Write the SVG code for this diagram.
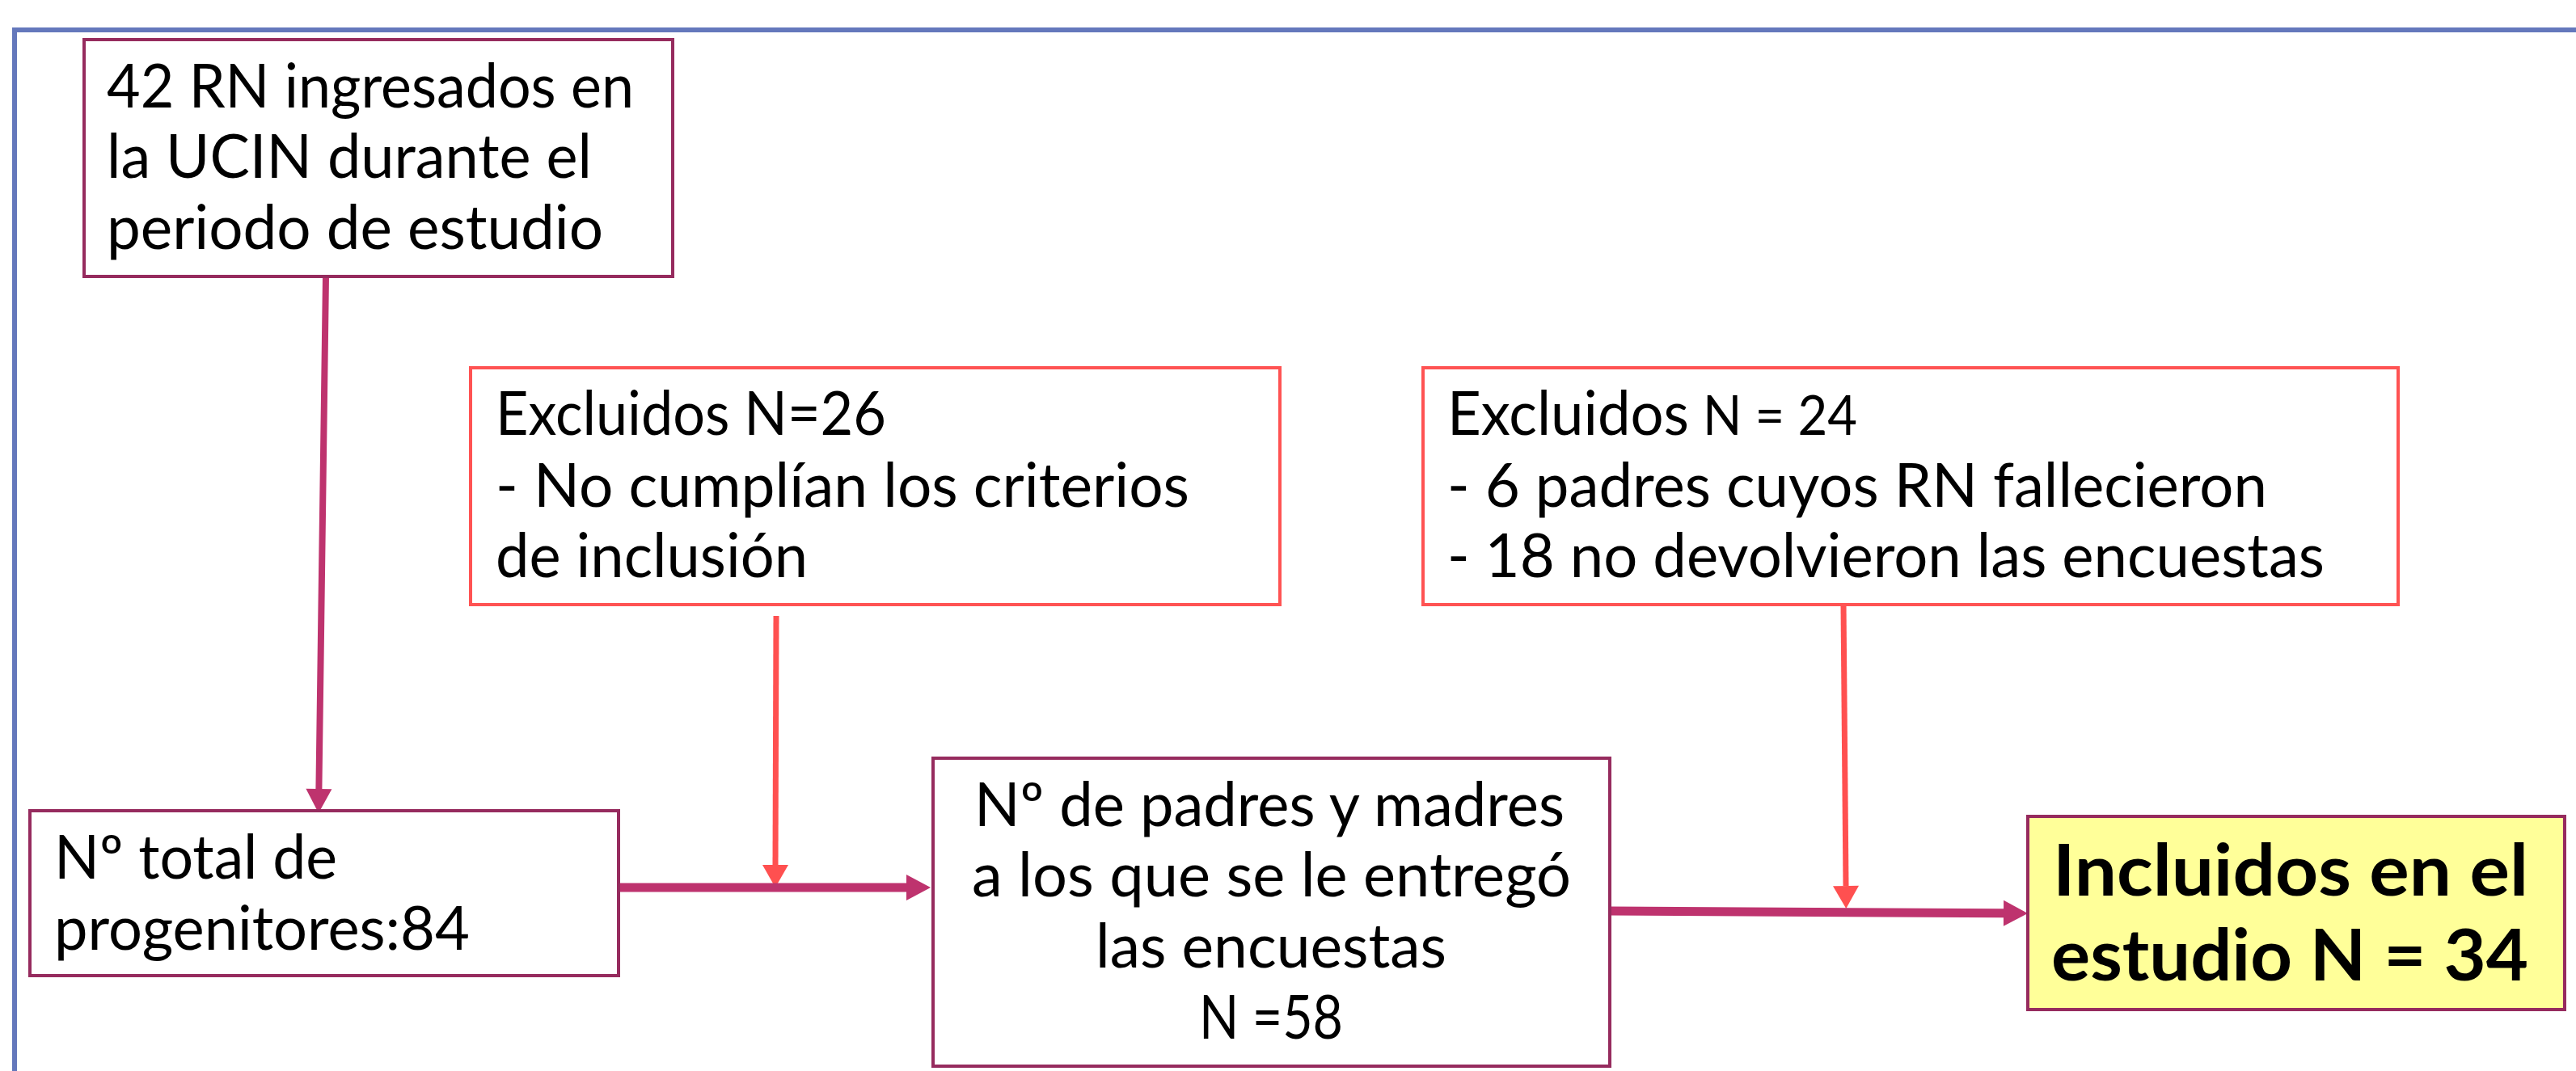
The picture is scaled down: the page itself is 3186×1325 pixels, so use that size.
<svg xmlns="http://www.w3.org/2000/svg" width="3186" height="1325" viewBox="0 0 3186 1325">
<style>
.frame{fill:none;stroke:#6478BC;stroke-width:6}
.bm{fill:#FFFFFF;stroke:#962B5E;stroke-width:4}
.br{fill:#FFFFFF;stroke:#FF5353;stroke-width:4}
.by{fill:#FFFF99;stroke:#962B5E;stroke-width:4}
.t{font-family:Lato,"Open Sans","Liberation Sans",sans-serif;font-size:75px;fill:#000000}
.tb{font-family:Lato,"Open Sans","Liberation Sans",sans-serif;font-size:88px;font-weight:bold;fill:#000000}
.cm{fill:none;stroke:#BE336E;stroke-linecap:round}
.cr{fill:none;stroke:#FF5050;stroke-width:7}
</style>
<defs>
<marker id="am" markerUnits="userSpaceOnUse" markerWidth="30" markerHeight="32" refX="0" refY="16" orient="auto" overflow="visible">
<path d="M0,0 L30,16 L0,32 Z" fill="#BE336E"/>
</marker>
<marker id="ar" markerUnits="userSpaceOnUse" markerWidth="28" markerHeight="32" refX="0" refY="16" orient="auto" overflow="visible">
<path d="M0,0 L28,16 L0,32 Z" fill="#FF5050"/>
</marker>
</defs>
<rect width="3186" height="1325" fill="#FFFFFF"/>
<path class="frame" d="M18,1330 L18,37 L3190,37"/>

<g id="connectors">
<path class="cm" stroke-width="8" d="M403,342 L394.4,976" marker-end="url(#am)"/>
<path class="cr" d="M960,762 L959,1070" marker-end="url(#ar)"/>
<path class="cm" stroke-width="11" d="M761,1098 L1121,1098" marker-end="url(#am)"/>
<path class="cr" d="M2280,748 L2283,1096" marker-end="url(#ar)"/>
<path class="cm" stroke-width="11" d="M1991,1127 L2478,1129.8" marker-end="url(#am)"/>
</g>

<g id="n1">
<rect class="bm" x="104" y="49" width="728" height="293"/>
<text class="t"><tspan x="132" y="133" textLength="652" lengthAdjust="spacingAndGlyphs">42 RN ingresados en</tspan><tspan x="132" y="220" textLength="600" lengthAdjust="spacingAndGlyphs">la UCIN durante el</tspan><tspan x="132" y="308" textLength="614" lengthAdjust="spacingAndGlyphs">periodo de estudio</tspan></text>
</g>

<g id="n2">
<rect class="bm" x="37" y="1003" width="728" height="204"/>
<text class="t"><tspan x="67" y="1087" textLength="350" lengthAdjust="spacingAndGlyphs">Nº total de</tspan><tspan x="67" y="1175" textLength="514" lengthAdjust="spacingAndGlyphs">progenitores:84</tspan></text>
</g>

<g id="n3">
<rect class="br" x="582" y="455" width="1001" height="293"/>
<text class="t"><tspan x="613" y="538" textLength="483" lengthAdjust="spacingAndGlyphs">Excluidos N=26</tspan><tspan x="613" y="627" textLength="858" lengthAdjust="spacingAndGlyphs">- No cumplían los criterios</tspan><tspan x="613" y="714" textLength="386" lengthAdjust="spacingAndGlyphs">de inclusión</tspan></text>
</g>

<g id="n4">
<rect class="br" x="1760" y="455" width="1206" height="293"/>
<text class="t"><tspan x="1790" y="538" textLength="299" lengthAdjust="spacingAndGlyphs">Excluidos</tspan><tspan x="2106" y="538" font-size="68" textLength="191" lengthAdjust="spacingAndGlyphs">N = 24</tspan><tspan x="1790" y="627" textLength="1014" lengthAdjust="spacingAndGlyphs">- 6 padres cuyos RN fallecieron</tspan><tspan x="1790" y="714" textLength="1085" lengthAdjust="spacingAndGlyphs">- 18 no devolvieron las encuestas</tspan></text>
</g>

<g id="n5">
<rect class="bm" x="1154" y="938" width="837" height="381"/>
<text class="t"><tspan x="1205" y="1022" textLength="730" lengthAdjust="spacingAndGlyphs">Nº de padres y madres</tspan><tspan x="1202" y="1109" textLength="741" lengthAdjust="spacingAndGlyphs">a los que se le entregó</tspan><tspan x="1355" y="1197" textLength="434" lengthAdjust="spacingAndGlyphs">las encuestas</tspan><tspan x="1483" y="1285" textLength="178" lengthAdjust="spacingAndGlyphs">N =58</tspan></text>
</g>

<g id="n6">
<rect class="by" x="2508" y="1010" width="664" height="239"/>
<text class="tb"><tspan x="2539" y="1108" textLength="588" lengthAdjust="spacingAndGlyphs">Incluidos en el</tspan><tspan x="2537" y="1213" textLength="590" lengthAdjust="spacingAndGlyphs">estudio N = 34</tspan></text>
</g>
</svg>
